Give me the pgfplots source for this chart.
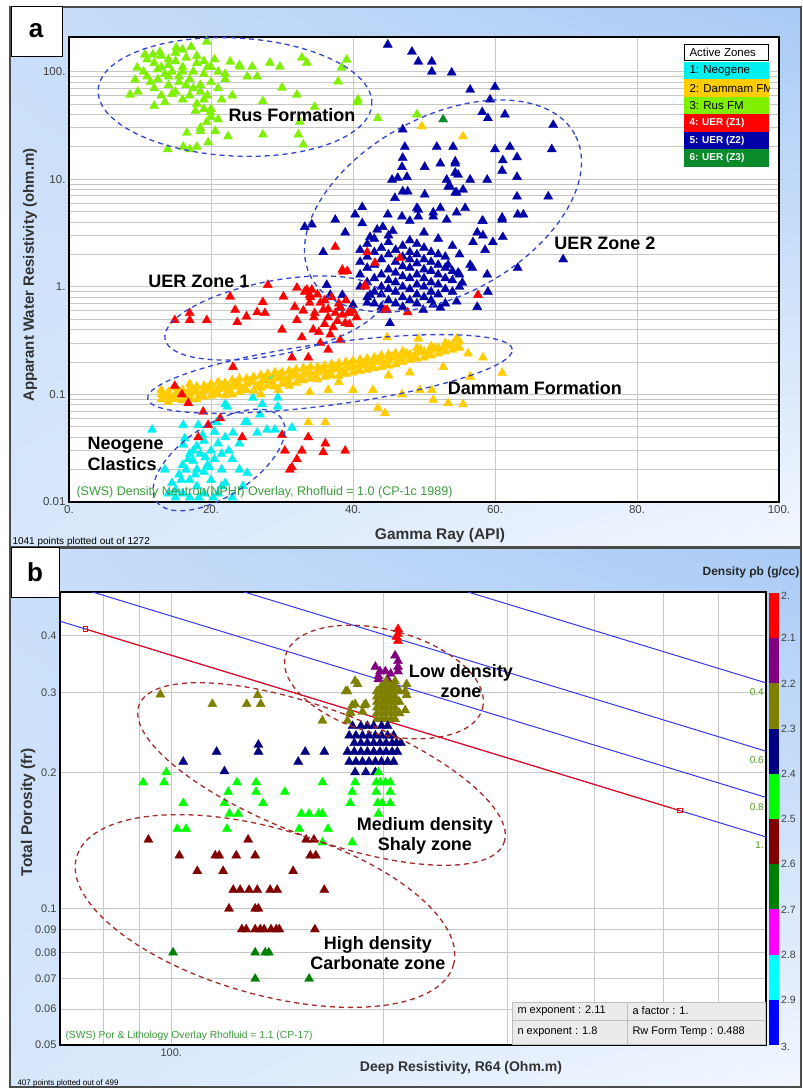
\documentclass[border=0pt]{standalone}
\usepackage{pgfplots}
\pgfplotsset{compat=1.18}
\usetikzlibrary{shadings}
\usepackage{fontspec}
\setmainfont{Liberation Sans}

% zone colours (panel a)
\definecolor{zNeo}{HTML}{00F0F0}
\definecolor{zDam}{HTML}{FFCC00}
\definecolor{zRus}{HTML}{7FF000}
\definecolor{zZ1}{HTML}{FF0000}
\definecolor{zZ2}{HTML}{0000A8}
\definecolor{zZ3}{HTML}{0A8A2A}
% density colours (panel b)
\definecolor{dRed}{HTML}{FF0000}
\definecolor{dPur}{HTML}{800080}
\definecolor{dOli}{HTML}{808000}
\definecolor{dNav}{HTML}{000080}
\definecolor{dLim}{HTML}{00FF00}
\definecolor{dMar}{HTML}{800000}
\definecolor{dGrn}{HTML}{008000}
\definecolor{dMag}{HTML}{FF00FF}
\definecolor{dCya}{HTML}{00FFFF}
\definecolor{dBlu}{HTML}{0000FF}
% frame and overlay colours
\definecolor{bgUL}{HTML}{C9DEF9}
\definecolor{bgUR}{HTML}{A9CBF6}
\definecolor{bgLL}{HTML}{D6E7FB}
\definecolor{bgLR}{HTML}{F2F7FE}
\definecolor{ovl}{HTML}{3C9A3C}
\definecolor{swl}{HTML}{5A9E1E}
\definecolor{ellA}{HTML}{3344CC}
\definecolor{ellB}{HTML}{A52A2A}
\definecolor{swblue}{HTML}{3838F0}

\pgfplotsset{
  tri/.style={only marks, mark=triangle*, mark size=5.3pt,
    mark options={fill=#1, draw=#1, line width=0.3pt}},
  panel/.style={scale only axis, anchor=south west,
    axis line style={line width=2pt},
    grid style={draw=black!22, line width=1pt},
    tick style={draw=none},
    ticklabel style={text=black!75, font=\fontsize{11.5}{13}\selectfont},
    axis background/.style={fill=white}},
}

\begin{document}
\begin{tikzpicture}[x=1pt,y=1pt]
\useasboundingbox (0,0) rectangle (803,1088);

% frames
\shade[upper left=bgUL, upper right=bgUR, lower left=bgLL, lower right=bgLR] (10,541) rectangle (801,1081);
\draw[black!70, line width=1.2pt] (10,541) rectangle (801,1081);
\shade[upper left=bgUL, upper right=bgUR, lower left=bgLL, lower right=bgLR] (10,1) rectangle (801,540);
\draw[black!70, line width=1.2pt] (10,1) rectangle (801,540);
\draw[fill=white, line width=1pt] (11,1031) rectangle (62,1081);
\node[font=\bfseries\fontsize{26}{28}\selectfont] at (36,1057) {a};
\draw[fill=white, line width=1pt] (11,490) rectangle (59,540);
\node[font=\bfseries\fontsize{26}{28}\selectfont] at (35,516) {b};

% ---------------- panel a ----------------
\begin{axis}[panel, at={(69pt,586pt)}, width=710pt, height=465pt,
    xmin=0, xmax=100, ymode=log, ymin=0.01, ymax=210,
    xtick={0,20,40,60,80,100}, xticklabels={0.,20.,40.,60.,80.,100.},
    ytick={0.01,0.1,1,10,100}, yticklabels={0.01,0.1,1.,10.,100.},
    minor ytick={0.02,0.03,0.04,0.05,0.06,0.07,0.08,0.09,0.2,0.3,0.4,0.5,0.6,0.7,0.8,0.9,2,3,4,5,6,7,8,9,20,30,40,50,60,70,80,90},
    xmajorgrids, ymajorgrids, yminorgrids]
% 1: Neogene
\addplot[tri=zNeo] coordinates {
(11.7,0.047)(16.1,0.052)(18.2,0.052)(16.1,0.034)(20.8,0.055)(22.3,0.077)(25.1,0.055)(26.5,0.044)
(27.9,0.047)(29,0.047)(26.9,0.065)(29.4,0.077)(29.4,0.093)(28.7,0.146)(27.9,0.146)(31.4,0.049)
(23.1,0.044)(25.1,0.0186)(25.9,0.093)(27.2,0.081)(24.8,0.055)(22,0.081)
(14.5,0.015)(15,0.013)(15.5,0.018)(16,0.012)(16.5,0.02)(17,0.016)(17.5,0.024)(18,0.014)
(18.5,0.028)(19,0.019)(19.5,0.022)(20,0.03)(20.5,0.025)(21,0.035)(21.5,0.028)(22,0.04)
(16,0.022)(17,0.028)(18,0.033)(19,0.037)(15,0.011)(17,0.011)(19,0.012)(21,0.012)(23,0.011)
(22,0.015)(20,0.016)(18,0.02)(24,0.02)(15.8,0.016)(17.8,0.018)(19.8,0.021)(21.5,0.02)(23,0.025)
(20.5,0.045)(18.8,0.042)(17.5,0.03)(16.8,0.025)(14,0.012)(22.5,0.03)(24,0.035)(13.5,0.02)
(16.3,0.039)(19.2,0.026)(21.5,0.014)(24.5,0.014)(18.3,0.011)(20.3,0.011)
};
% 2: Dammam FM
\addplot[tri=zDam] coordinates {
(13,0.09)(13,0.1)(13,0.11)(14,0.085)(14,0.095)(14,0.105)(15,0.09)(15,0.1)(15,0.115)
(16,0.088)(16,0.098)(16,0.11)(17,0.092)(17,0.1)(17,0.112)(17,0.125)(18,0.09)(18,0.105)(18,0.118)
(19,0.095)(19,0.108)(19,0.12)(20,0.097)(20,0.11)(20,0.125)(21,0.1)(21,0.112)(21,0.13)
(22,0.098)(22,0.115)(22,0.128)(23,0.1)(23,0.118)(23,0.135)(24,0.105)(24,0.12)(24,0.14)
(25,0.11)(25,0.125)(25,0.14)(26,0.108)(26,0.13)(26,0.145)(27,0.115)(27,0.128)(27,0.15)
(28,0.12)(28,0.135)(28,0.155)(29,0.118)(29,0.14)(29,0.16)(30,0.125)(30,0.142)(30,0.16)
(31,0.13)(31,0.145)(31,0.165)(32,0.128)(32,0.15)(32,0.17)(33,0.135)(33,0.152)(33,0.175)
(34,0.14)(34,0.158)(34,0.18)(35,0.138)(35,0.16)(35,0.18)(36,0.145)(36,0.165)(36,0.185)
(37,0.15)(37,0.17)(37,0.19)(38,0.148)(38,0.172)(38,0.195)(39,0.155)(39,0.175)(39,0.2)
(40,0.16)(40,0.18)(40,0.205)(41,0.165)(41,0.185)(41,0.21)(42,0.17)(42,0.19)(42,0.215)
(43,0.175)(43,0.2)(43,0.22)(44,0.18)(44,0.205)(44,0.23)(45,0.185)(45,0.21)(45,0.235)
(46,0.19)(46,0.22)(46,0.24)(47,0.2)(47,0.225)(47,0.25)(48,0.21)(48,0.235)(49,0.215)(49,0.245)(49,0.27)
(50,0.22)(50,0.25)(51,0.23)(51,0.26)(51,0.28)(52,0.24)(52,0.27)(53,0.25)(53,0.28)(53,0.3)
(54,0.26)(54,0.29)(55,0.27)(55,0.31)
(13.5,0.097)(14.5,0.092)(15.5,0.107)(16.5,0.094)(17.5,0.108)(18.5,0.098)(19.5,0.115)(20.5,0.104)
(21.5,0.121)(22.5,0.107)(23.5,0.127)(24.5,0.113)(25.5,0.133)(26.5,0.119)(27.5,0.14)(28.5,0.128)
(29.5,0.15)(30.5,0.134)(31.5,0.156)(32.5,0.14)(33.5,0.165)(34.5,0.149)(35.5,0.17)(36.5,0.155)
(37.5,0.18)(38.5,0.162)(39.5,0.188)(40.5,0.172)(41.5,0.196)(42.5,0.18)(43.5,0.21)(44.5,0.192)
(45.5,0.225)(46.5,0.205)(47.5,0.24)(48.5,0.222)(49.5,0.26)(50.5,0.238)(51.5,0.27)(52.5,0.255)
(53.5,0.29)(54.5,0.275)
(33.9,0.105)(36.5,0.11)(40,0.11)(42.8,0.11)(43.5,0.075)(44.5,0.067)(33.7,0.055)(36.1,0.055)
(46.9,0.10)(49.4,0.11)(51.3,0.089)(53.4,0.083)(55.5,0.081)(56.5,0.146)(61,0.158)(58.3,0.22)
(56.2,0.24)(52.7,0.18)(51.1,0.11)(29.5,0.11)(27,0.1)(31,0.12)(38,0.13)(45,0.15)(48,0.16)
(44.8,0.34)(49.2,0.33)(54.6,0.33)(49.7,31)(55.5,25)(50.1,13)
};
% 3: Rus FM
\addplot[tri=zRus] coordinates {
(19.4,190)(15.1,167)(17.2,170)(10.7,144)(11.8,144)(12.8,152)(9.6,109)(9.3,84)(8.6,61)(9.7,65)
(22.7,124)(24.1,111)(25.8,111)(25.1,90)(26.5,90)(28.3,121)(29.7,111)(32.8,135)(33.5,121)(30,71)
(32.1,61)(27.3,53)(34.6,47)(38.4,109)(39.1,129)(37.9,81)(40.7,55)(40.6,52)(43.5,37)(32.5,34)
(32.3,26)(33,21)(27.3,26)(22.4,25)(16.6,27)(18.5,28)(20.6,28)(19.4,34)(19.9,42)(19.6,22)
(18,20)(16.1,20)(13.9,19)(17,19)(49,40)
(11,130)(12,120)(12.5,105)(13,140)(13.5,95)(14,115)(14.5,100)(15,125)(15.5,90)(16,110)
(16.5,135)(17,85)(17.5,100)(18,120)(18.5,75)(19,95)(19.5,110)(20,80)(20.5,130)(21,70)
(11.5,80)(12,70)(13,60)(14,75)(15,65)(16,55)(17,60)(18,50)(19,55)(20,45)(21,100)(22,85)
(23,60)(24,115)(10.5,100)(11,90)(12.5,85)(14,90)(15.5,80)(16.5,75)(17.5,70)(18.5,65)
(19.5,60)(21.5,55)(13,110)(14,130)(15,150)(16,100)(18,140)(19,125)(20,110)(22,95)
(20,38)(18.5,30)(19,45)(12,48)(13.5,52)(16,160)(14.5,62)(17.8,43)(21,36)
};
% 5: UER (Z2)
\addplot[tri=zZ2] coordinates {
(44.9,178)(48.3,153)(49.2,124)(51.1,124)(51.1,100)(53.9,98)(56.5,68)(60,72)(59.3,55)(58.2,42)
(59,37)(61.4,40)(68.2,32)(68,19)(60,19)(62.1,20)(63.1,16)(61.1,15)(61,12)(63.1,10.5)(58.9,9.9)
(56.5,9.9)(54.4,11.5)(54.4,14)(52.3,14)(50.1,13)(63.1,6.9)(67.5,6.9)(64,4.7)(61,4.2)(58.3,4.1)
(55.8,5.4)(54.4,7.5)(53.7,8.5)(51.3,4.9)(49.2,5.2)(48,4.1)(61.1,2.9)(57.5,3.2)(69.6,1.8)(63.2,1.5)
(58.9,1.3)(55.4,1.09)(59,0.9)(57.5,0.65)(54.6,0.73)(52.3,0.64)(49.9,0.61)(54.8,1.35)(56.5,1.6)(53.4,1.6)
(47,29)(51.8,20)(54.1,20)(54.4,14.6)(47.3,20)(47,15.8)(46.9,13)(45.5,9.9)(46.3,10.3)(47.6,10.5)
(47,7.7)(47.7,7.7)(45.9,6.7)(50.1,7.2)(53.2,9.9)(54.8,11)(53.4,8.5)(54.6,7.5)(55.5,8)(41.3,5.5)
(40.3,4.7)(41.3,3.9)(37.5,4.2)(34.2,3.8)(33.2,3.6)(38.9,3.2)(35.8,2.1)(44.9,4.7)(46.9,4.5)(49,5.4)
(52.3,5.4)(49.2,4.5)(51.3,4.5)(53.2,4.2)(54.6,4.9)(58.2,4.1)(61,4.4)(63.2,4.7)(58.3,3.0)(56.9,2.6)
(59.7,2.6)(58.6,2.2)(56.8,1.5)(43.4,3.4)(42.4,2.9)(44.2,3.6)(45.6,3.3)
(36.3,1.04)(36.8,0.84)(38.5,0.84)(40,0.68)(38.2,0.64)(42,0.71)(42.4,0.84)(45.2,0.46)(44.2,0.61)(51.3,0.68)
(41,1.0)(41,1.3)(41,1.7)(41,2.2)(42,0.8)(42,1.1)(42,1.5)(42,1.9)(42,2.5)
(43,0.7)(43,0.9)(43,1.2)(43,1.6)(43,2.1)(43,2.8)(44,0.65)(44,0.85)(44,1.0)(44,1.3)(44,1.8)(44,2.3)
(45,0.75)(45,0.95)(45,1.15)(45,1.45)(45,2.0)(45,2.6)(45,3.0)(46,0.7)(46,0.9)(46,1.1)(46,1.35)(46,1.7)(46,2.2)
(47,0.65)(47,0.8)(47,1.0)(47,1.25)(47,1.55)(47,1.9)(47,2.4)(48,0.75)(48,0.95)(48,1.2)(48,1.5)(48,1.8)(48,2.1)(48,2.7)
(49,0.7)(49,0.85)(49,1.05)(49,1.3)(49,1.65)(49,2.0)(49,2.5)(50,0.8)(50,1.0)(50,1.2)(50,1.45)(50,1.8)(50,2.3)(50,3.2)
(51,0.75)(51,0.9)(51,1.1)(51,1.4)(51,1.7)(51,2.1)(52,0.85)(52,1.05)(52,1.3)(52,1.6)(52,2.0)(52,2.8)
(53,0.7)(53,0.95)(53,1.2)(53,1.5)(53,1.9)(54,0.9)(54,1.15)(54,1.4)(54,2.4)(55,1.0)(55,1.3)(55,2.0)
};
% 4: UER (Z1)
\addplot[tri=zZ1] coordinates {
(14.9,0.49)(17,0.57)(17,0.49)(19.4,0.49)(22.7,0.81)(23.4,0.61)(23.7,0.47)(25,0.53)(26.5,0.58)
(27.6,0.57)(27.3,0.72)(30.2,0.81)(30,0.4)(32.1,0.98)(33.2,0.9)(34.2,0.94)(31.8,0.65)(32.1,0.49)
(33.9,0.71)(35.4,0.71)(34.6,0.57)(35.8,0.61)(36.5,0.52)(37.5,0.57)(38.2,0.65)(39.6,0.57)(38.9,0.46)
(37.2,0.42)(34.4,0.4)(32.8,0.34)(35.4,0.30)(38.2,0.32)(36.5,0.26)(31.4,0.22)(33.7,0.22)(23.1,0.18)
(38.5,1.44)(39.2,1.4)
(14.9,0.12)(15.9,0.10)(16.8,0.083)(18.9,0.069)(19.6,0.052)(18.2,0.040)(24.4,0.040)(30,0.042)
(30.4,0.030)(32.8,0.030)(31.4,0.021)(36.1,0.035)(35.8,0.029)(38.9,0.030)(32.1,0.025)(31.1,0.020)
(33.7,0.040)(21.3,0.06)
(37.5,2.35)(38.6,1.38)(42,2.1)(43.1,1.67)(46.6,1.85)(41.7,1.0)(44.5,0.61)(47.7,0.58)(57.6,0.84)
(28,1.04)(33.5,0.94)(33.9,0.84)(41.7,1.04)(44.8,0.61)(39.3,0.57)
(36,0.75)(37,0.8)(38,0.7)(36.5,0.62)(37.8,0.48)(39,0.75)(35,0.85)(34,0.8)(33,0.6)(36,0.45)
(34.5,0.52)(38.5,0.55)(40,0.6)(40.5,0.52)(39.5,0.45)(36.8,0.36)(35.2,0.38)
};
% 6: UER (Z3)
\addplot[tri=zZ3] coordinates {(52.7,36)};
\end{axis}

% ellipses panel a
\begin{scope}[ellA, line width=1.3pt, dash pattern=on 5pt off 4pt]
\draw (235,991) circle [x radius=137pt, y radius=59pt, rotate=-3];
\draw (443,882) circle [x radius=150pt, y radius=89pt, rotate=28.5];
\draw (274,770) circle [x radius=111pt, y radius=37pt, rotate=11];
\draw (330,714) circle [x radius=184pt, y radius=31pt, rotate=7.7];
\draw (219,628) circle [x radius=75pt, y radius=36pt, rotate=33];
\end{scope}

\begin{scope}[font=\bfseries\fontsize{18}{21}\selectfont]
\node at (292,973) {Rus Formation};
\node at (605,845) {UER Zone 2};
\node at (199,807) {UER Zone 1};
\node at (535,700) {Dammam Formation};
\node[anchor=west, align=left] at (84,634) {Neogene\\Clastics};
\end{scope}
\node[anchor=west, text=ovl, font=\fontsize{12.5}{14}\selectfont] at (73,596)
  {(SWS) Density Neutron(NPHI) Overlay, Rhofluid = 1.0 (CP-1c 1989)};

% legend panel a
\begin{scope}
\clip (684,921) rectangle (769,1044);
\fill[white] (684,1028) rectangle (769,1043);
\fill[zNeo] (684,1008.5) rectangle (769,1026);
\fill[zDam] (684,991) rectangle (769,1008.5);
\fill[zRus] (684,973.5) rectangle (769,991);
\fill[zZ1] (684,956) rectangle (769,973.5);
\fill[zZ2] (684,938.5) rectangle (769,956);
\fill[zZ3] (684,921) rectangle (769,938.5);
\begin{scope}[font=\fontsize{11.5}{13}\selectfont]
\node[anchor=west] at (686,1035.5) {Active Zones};
\node[anchor=west] at (686,1017.25) {1: Neogene};
\node[anchor=west] at (686,999.75) {2: Dammam FM};
\node[anchor=west] at (686,982.25) {3: Rus FM};
\node[anchor=west, text=white, font=\bfseries] at (686,964.75) {4: UER (Z1)};
\node[anchor=west, text=white, font=\bfseries] at (686,947.25) {5: UER (Z2)};
\node[anchor=west, text=white, font=\bfseries] at (686,929.75) {6: UER (Z3)};
\end{scope}
\end{scope}
\draw[line width=1.6pt] (684.5,1027.5) rectangle (768.5,1043.5);

\node[rotate=90, text=black!80, font=\bfseries\fontsize{15}{17}\selectfont] at (30,813)
  {Apparant Water Resistivity (ohm.m)};
\node[text=black!80, font=\bfseries\fontsize{15.5}{17}\selectfont] at (440,553) {Gamma Ray (API)};
\node[anchor=west, font=\fontsize{10}{12}\selectfont] at (9,546) {1041 points plotted out of 1272};

% ---------------- panel b ----------------
\begin{axis}[panel, at={(60pt,43pt)}, width=706pt, height=453pt,
    xmode=log, ymode=log, xmin=69.5, xmax=700, ymin=0.05, ymax=0.5,
    xtick={100}, xticklabels={100.},
    minor xtick={80,90,200,300,400,500,600},
    ytick={0.05,0.06,0.07,0.08,0.09,0.1,0.2,0.3,0.4},
    yticklabels={0.05,0.06,0.07,0.08,0.09,0.1,0.2,0.3,0.4},
    minor ytick={},
    ticklabel style={font=\fontsize{11}{13}\selectfont},
    xmajorgrids, xminorgrids, ymajorgrids]
\addplot[tri=dRed] coordinates {(210,0.414)(210,0.404)(210,0.39)(209,0.398)};
\addplot[tri=dPur] coordinates {
(195,0.342)(198,0.334)(201.5,0.334)(205,0.33)(197,0.326)(210,0.352)(210,0.342)(210,0.334)
(203,0.321)(197,0.321)(208,0.362)};
\addplot[tri=dOli] coordinates {
(96.5,0.297)(114.4,0.283)(128,0.283)(132.7,0.296)(134,0.283)(164,0.26)(178,0.302)(184,0.313)
(182.5,0.283)(189,0.283)(178,0.26)(179.6,0.272)(187,0.272)(177,0.302)(182.5,0.318)(180.8,0.281)
(188,0.281)(216,0.313)(215,0.302)(216,0.296)(215,0.274)(179.6,0.27)
(196,0.262)(196,0.27)(196,0.278)(196,0.286)(196,0.294)(196,0.302)
(199,0.262)(199,0.27)(199,0.278)(199,0.286)(199,0.294)(199,0.302)(199,0.31)
(202,0.262)(202,0.27)(202,0.278)(202,0.286)(202,0.294)(202,0.302)(202,0.31)(202,0.318)
(205,0.262)(205,0.27)(205,0.278)(205,0.286)(205,0.294)(205,0.302)(205,0.31)
(208,0.262)(208,0.27)(208,0.278)(208,0.286)(208,0.294)(208,0.302)(208,0.31)(208,0.318)
(211,0.27)(211,0.286)(211,0.302)};
\addplot[tri=dNav] coordinates {
(104,0.211)(116,0.222)(133,0.23)(133,0.222)(119,0.201)(151.5,0.211)(155,0.222)(165,0.222)(212,0.232)
(181,0.253)(186,0.253)(190,0.253)(194,0.253)(199,0.253)(203,0.253)
(179,0.241)(183,0.241)(187,0.241)(191,0.241)(195,0.241)(199,0.241)(203,0.241)(207,0.241)
(182,0.232)(186,0.232)(190,0.232)(194,0.232)(198,0.232)(202,0.232)(206,0.232)(209,0.232)
(178,0.222)(182,0.222)(186,0.222)(190,0.222)(194,0.222)(198,0.222)(202,0.222)(206,0.222)(209.5,0.222)
(179,0.211)(183,0.211)(187,0.211)(191,0.211)(195,0.211)(199,0.211)(203,0.211)(207,0.211)
(182.5,0.2)(189,0.2)(195,0.2)};
\addplot[tri=dLim] coordinates {
(91.2,0.19)(97.7,0.19)(98.4,0.2)(104,0.171)(102,0.15)(105,0.15)(119,0.171)(120.5,0.181)(121,0.162)
(124.5,0.162)(120,0.15)(124,0.19)(132,0.19)(132,0.181)(135,0.171)(145,0.181)(152,0.15)(153,0.162)
(157,0.162)(162,0.162)(164,0.162)(164,0.19)(167,0.15)(164,0.14)(180.8,0.14)(180.8,0.181)
(179.6,0.171)(182.5,0.19)(195.6,0.19)(198.2,0.19)(201.5,0.19)(204.7,0.19)(195.6,0.181)
(204.7,0.181)(196.5,0.171)(199.5,0.171)(204.7,0.171)(197,0.162)(197,0.2)};
\addplot[tri=dMar] coordinates {
(92.8,0.142)(102.7,0.131)(108.9,0.121)(115.5,0.131)(117,0.131)(123.7,0.131)(128.6,0.142)(131.6,0.131)
(118.5,0.121)(149,0.121)(155.5,0.142)(159.5,0.142)(157.6,0.131)(160.5,0.131)(165,0.11)(122.5,0.11)
(125.3,0.11)(129,0.11)(132.5,0.11)(138.2,0.11)(141.4,0.11)(120.8,0.1)(131.6,0.1)(133,0.1)
(126,0.09)(127.8,0.09)(131.6,0.09)(133.8,0.09)(135.5,0.09)(138.6,0.09)(141,0.09)(142.4,0.09)(160,0.09)};
\addplot[tri=dGrn] coordinates {(100.6,0.08)(131.6,0.08)(136,0.08)(137.6,0.08)(131.6,0.07)(157,0.07)};
% saturation lines (Sw = 0.4, 0.6, 0.8, 1)
\addplot[swblue, line width=1pt] coordinates {(264,0.5)(700,0.315)};
\addplot[swblue, line width=1pt] coordinates {(127,0.5)(700,0.2226)};
\addplot[swblue, line width=1pt] coordinates {(77.3,0.5)(700,0.176)};
\addplot[swblue, line width=1pt] coordinates {(69.5,0.431)(700,0.144)};
\addplot[red, line width=1pt, mark=square, mark size=2.2pt, mark options={solid, fill=white}]
  coordinates {(75.5,0.4144)(528,0.1646)};
\end{axis}

% ellipses panel b
\begin{scope}[ellB, line width=1.3pt, dash pattern=on 5pt off 4pt]
\draw (384,406) circle [x radius=102pt, y radius=52pt, rotate=-15];
\draw (321.5,314) circle [x radius=195pt, y radius=64pt, rotate=-20.7];
\draw (265,177) circle [x radius=196pt, y radius=83pt, rotate=-16];
\end{scope}
\begin{scope}[font=\bfseries\fontsize{18}{20}\selectfont, align=center]
\node at (461,407) {Low density\\zone};
\node at (425,252) {Medium density\\Shaly zone};
\node at (378,135) {High density\\Carbonate zone};
\end{scope}

% Sw labels
\begin{scope}[text=swl, font=\fontsize{10}{11}\selectfont]
\node[anchor=east, inner sep=1pt] at (765,396) {0.4};
\node[anchor=east, inner sep=1pt] at (765,328) {0.6};
\node[anchor=east, inner sep=1pt] at (765,281) {0.8};
\node[anchor=east, inner sep=1pt] at (765,243) {1.};
\end{scope}

% parameter table
\fill[black!8] (512,44) rectangle (765,86);
\draw[black!25, line width=0.8pt] (512,44) rectangle (765,86) (512,68) -- (765,68) (627,44) -- (627,86);
\begin{scope}[font=\fontsize{11}{13}\selectfont]
\node[anchor=west] at (514,77) {m exponent : 2.11};
\node[anchor=west] at (629,77) {a factor : 1.};
\node[anchor=west] at (514,56) {n exponent : 1.8};
\node[anchor=west] at (629,56) {Rw Form Temp : 0.488};
\end{scope}

\node[anchor=west, text=ovl, font=\fontsize{10.3}{12}\selectfont] at (62,52)
  {(SWS) Por \& Lithology Overlay Rhofluid = 1.1 (CP-17)};

% colour bar
\fill[dRed] (769,495) rectangle (779,449.8);
\fill[dPur] (769,449.8) rectangle (779,404.6);
\fill[dOli] (769,404.6) rectangle (779,359.4);
\fill[dNav] (769,359.4) rectangle (779,314.2);
\fill[dLim] (769,314.2) rectangle (779,269);
\fill[dMar] (769,269) rectangle (779,223.8);
\fill[dGrn] (769,223.8) rectangle (779,178.6);
\fill[dMag] (769,178.6) rectangle (779,133.4);
\fill[dCya] (769,133.4) rectangle (779,88.2);
\fill[dBlu] (769,88.2) rectangle (779,43);
\begin{scope}[font=\fontsize{10.5}{12}\selectfont, text=black!75, anchor=west, inner sep=1pt]
\node at (780,492) {2.};
\node at (780,449.8) {2.1};
\node at (780,404.6) {2.2};
\node at (780,359.4) {2.3};
\node at (780,314.2) {2.4};
\node at (780,269) {2.5};
\node at (780,223.8) {2.6};
\node at (780,178.6) {2.7};
\node at (780,133.4) {2.8};
\node at (780,88.2) {2.9};
\node at (780,41) {3.};
\end{scope}
\node[text=black!85, font=\bfseries\fontsize{12}{14}\selectfont] at (751,516) {Density ρb (g/cc)};

\node[rotate=90, text=black!80, font=\bfseries\fontsize{15.5}{17}\selectfont] at (28,276) {Total Porosity (fr)};
\node[text=black!80, font=\bfseries\fontsize{14}{16}\selectfont] at (461,20) {Deep Resistivity, R64 (Ohm.m)};
\node[anchor=west, font=\fontsize{8}{10}\selectfont] at (14,5) {407 points plotted out of 499};
\end{tikzpicture}
\end{document}
